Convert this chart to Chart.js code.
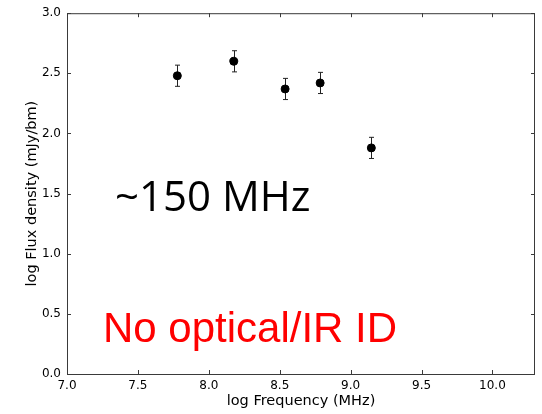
<!DOCTYPE html>
<html>
<head>
<meta charset="utf-8">
<script src="https://cdn.jsdelivr.net/npm/chart.js@4.4.1/dist/chart.umd.min.js"></script>
<style>
  html, body { margin: 0; padding: 0; background: #fff; }
  #wrap { width: 542px; height: 414px; }
</style>
</head>
<body>
<div id="wrap"><canvas id="spectrumChart"></canvas></div>
<script>
// log частоты (МГц) и log плотности потока
const logFreq = [7.778, 8.176, 8.538, 8.785, 9.146];
const logFlux = [2.48, 2.60, 2.37, 2.42, 1.88];
const fluxErr = [0.088, 0.088, 0.088, 0.088, 0.088];

const xTicks = [7.0, 7.5, 8.0, 8.5, 9.0, 9.5, 10.0];
const yTicks = [0.0, 0.5, 1.0, 1.5, 2.0, 2.5, 3.0];

const frameColor = '#3a3a3a';

// рамка, внутренние засечки, усы ошибок и подписи
const decorPlugin = {
    id: 'decor',
    beforeDatasetsDraw(chart) {
        const ctx = chart.ctx;
        const a = chart.chartArea;
        const xs = chart.scales.x;
        const ys = chart.scales.y;
        ctx.save();
        ctx.strokeStyle = frameColor;
        ctx.lineWidth = 1;
        ctx.strokeRect(a.left + 0.5, a.top + 0.5, a.right - a.left - 1, a.bottom - a.top);
        ctx.beginPath();
        xTicks.forEach(v => {
            const px = Math.round(xs.getPixelForValue(v)) + 0.5;
            ctx.moveTo(px, a.bottom); ctx.lineTo(px, a.bottom - 4);
            ctx.moveTo(px, a.top); ctx.lineTo(px, a.top + 4);
        });
        yTicks.forEach(v => {
            const py = Math.round(ys.getPixelForValue(v)) + 0.5;
            ctx.moveTo(a.left, py); ctx.lineTo(a.left + 4, py);
            ctx.moveTo(a.right, py); ctx.lineTo(a.right - 4, py);
        });
        ctx.stroke();

        // усы ошибок
        ctx.strokeStyle = '#222';
        ctx.beginPath();
        logFreq.forEach((f, i) => {
            const px = Math.round(xs.getPixelForValue(f)) + 0.5;
            const yTop = ys.getPixelForValue(logFlux[i] + fluxErr[i]);
            const yBot = ys.getPixelForValue(logFlux[i] - fluxErr[i]);
            ctx.moveTo(px, yTop); ctx.lineTo(px, yBot);
            ctx.moveTo(px - 2.5, yTop); ctx.lineTo(px + 2.5, yTop);
            ctx.moveTo(px - 2.5, yBot); ctx.lineTo(px + 2.5, yBot);
        });
        ctx.stroke();
        ctx.restore();
    },
    afterDraw(chart) {
        const ctx = chart.ctx;
        ctx.save();
        ctx.textBaseline = 'alphabetic';
        ctx.textAlign = 'left';
        ctx.fillStyle = '#000';
        ctx.font = '42px "Open Sans"';
        ctx.fillText('~150 MHz', 115, 211);
        ctx.fillStyle = '#ff0000';
        ctx.font = '42px "Liberation Sans"';
        ctx.fillText('No optical/IR ID', 103, 342);
        ctx.restore();
    }
};

const tickFont = { family: '"DejaVu Sans"', size: 12 };
const titleFont = { family: '"DejaVu Sans"', size: 14.5 };

new Chart(document.getElementById('spectrumChart'), {
    type: 'scatter',
    data: {
        datasets: [{
            data: logFreq.map((f, i) => ({ x: f, y: logFlux[i] })),
            backgroundColor: '#000',
            borderColor: '#000',
            pointRadius: 4,
            pointHoverRadius: 4
        }]
    },
    options: {
        responsive: true,
        maintainAspectRatio: false,
        animation: false,
        layout: { padding: { left: 0, right: 7, top: 12, bottom: 0 } },
        plugins: {
            legend: { display: false },
            tooltip: { enabled: false }
        },
        scales: {
            x: {
                type: 'linear',
                min: 7.0,
                max: 10.3,
                afterBuildTicks: s => { s.ticks = xTicks.map(v => ({ value: v })); },
                afterFit: s => { s.height = 40; },
                grid: { display: false, drawTicks: false },
                border: { display: false },
                ticks: {
                    color: '#000',
                    font: tickFont,
                    padding: 5,
                    callback: v => v.toFixed(1)
                },
                title: {
                    display: true,
                    text: 'log Frequency (MHz)',
                    color: '#000',
                    font: titleFont,
                    padding: { top: 0, bottom: 4 }
                }
            },
            y: {
                type: 'linear',
                min: 0,
                max: 3.0,
                afterBuildTicks: s => { s.ticks = yTicks.map(v => ({ value: v })); },
                afterFit: s => { s.width = 67; },
                grid: { display: false, drawTicks: false },
                border: { display: false },
                ticks: {
                    color: '#000',
                    font: tickFont,
                    padding: 6,
                    callback: v => v.toFixed(1)
                },
                title: {
                    display: true,
                    text: 'log Flux density (mJy/bm)',
                    color: '#000',
                    font: titleFont,
                    padding: { top: 23.3, bottom: 0 }
                }
            }
        }
    },
    plugins: [decorPlugin]
});
</script>
</body>
</html>
